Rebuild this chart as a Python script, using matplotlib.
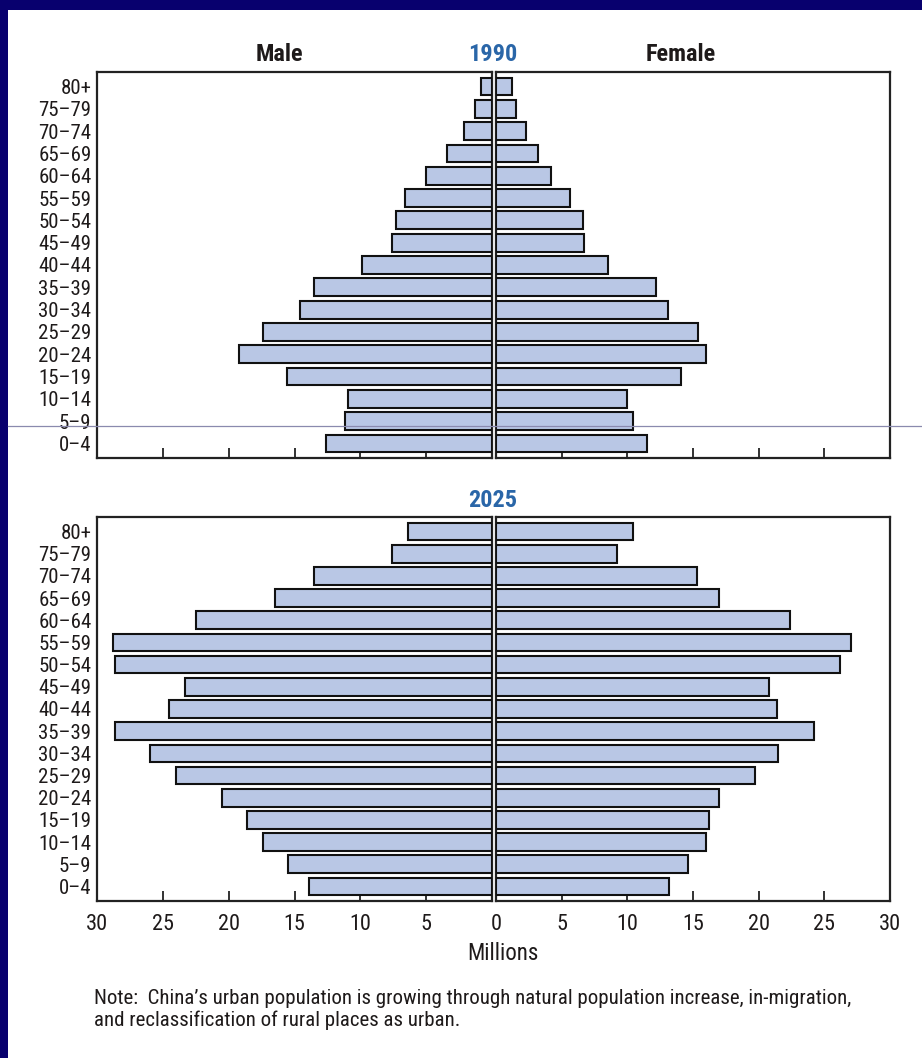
import os
import matplotlib
matplotlib.use("Agg")
import matplotlib.pyplot as plt
from matplotlib.lines import Line2D
from matplotlib.font_manager import FontProperties
from matplotlib import font_manager
import numpy as np

ages = ["0\u20134", "5\u20139", "10\u201314", "15\u201319", "20\u201324", "25\u201329", "30\u201334",
        "35\u201339", "40\u201344", "45\u201349", "50\u201354", "55\u201359", "60\u201364",
        "65\u201369", "70\u201374", "75\u201379", "80+"]

male_1990 = [12.6, 11.2, 10.9, 15.6, 19.2, 17.4, 14.6, 13.5, 9.9, 7.6, 7.3, 6.6, 5.0, 3.4, 2.1, 1.3, 0.8]
female_1990 = [11.5, 10.4, 10.0, 14.1, 16.0, 15.4, 13.1, 12.2, 8.5, 6.7, 6.6, 5.6, 4.2, 3.2, 2.3, 1.5, 1.2]
male_2025 = [13.9, 15.5, 17.4, 18.6, 20.5, 24.0, 26.0, 28.6, 24.5, 23.3, 28.6, 28.8, 22.5, 16.5, 13.5, 7.6, 6.4]
female_2025 = [13.2, 14.6, 16.0, 16.2, 17.0, 19.7, 21.5, 24.2, 21.4, 20.8, 26.2, 27.0, 22.4, 17.0, 15.3, 9.2, 10.4]

male_ticks = [5, 10, 15, 20, 25, 30]
female_ticks = [0, 5, 10, 15, 20, 25, 30]


def pick_font(bold):
    prefs = ["liberation sans narrow", "roboto condensed", "dejavu sans", "open sans",
             "noto sans", "lato", "inter", "liberation sans"]
    best = None
    for f in font_manager.fontManager.ttflist:
        fn = os.path.basename(f.fname).lower()
        name = f.name.lower()
        if "mono" in fn or "serif" in fn or "italic" in fn or "oblique" in fn or f.style != "normal":
            continue
        st = f.stretch
        if isinstance(st, str):
            cond = st in ("condensed", "semi-condensed", "extra-condensed", "ultra-condensed")
        else:
            cond = st < 500
        cond = cond or "narrow" in fn or "condensed" in fn or "narrow" in name or "condensed" in name
        w = f.weight
        if isinstance(w, str):
            isbold = w in ("bold", "heavy", "black", "demibold", "semibold")
        else:
            isbold = w >= 600
        if isbold != bold:
            continue
        rank = None
        for i, p in enumerate(prefs):
            if name.startswith(p):
                rank = i
                break
        if rank is None:
            continue
        score = (0 if cond else 100) + rank
        if "light" in fn or "thin" in fn or "medium" in fn or "extra" in fn or "black" in fn:
            score += 50
        if best is None or score < best[0]:
            best = (score, f.fname)
    return best[1] if best else None


reg_file = pick_font(False)
bold_file = pick_font(True)


def fp(size, bold=False):
    f = bold_file if bold else reg_file
    if f:
        return FontProperties(fname=f, size=size)
    return FontProperties(family="Liberation Sans", size=size, weight="bold" if bold else "normal")


W, H = 922, 1058
fig = plt.figure(figsize=(W / 100, H / 100), dpi=100)
fig.patch.set_facecolor("white")

NAVY = "#08006e"
BAR = "#b9c7e5"
TXT = "#1e1a1a"
BLUE = "#2a66a8"

fig.add_artist(plt.Rectangle((0, 1 - 10 / H), 1, 10 / H, transform=fig.transFigure,
                             facecolor=NAVY, edgecolor="none", zorder=0))
fig.add_artist(plt.Rectangle((0, 0), 8 / W, 1, transform=fig.transFigure,
                             facecolor=NAVY, edgecolor="none", zorder=0))


def fx(px):
    return px / W


def fy(py):
    return 1 - py / H


def make_panel(top_px, bot_px, male, female, show_xlabels):
    b = fy(bot_px)
    h = (bot_px - top_px) / H
    axm = fig.add_axes([fx(97), b, fx(492 - 97), h])
    axf = fig.add_axes([fx(496), b, fx(890 - 496), h])
    y = np.arange(len(ages))
    for ax, vals, tks in ((axm, male, male_ticks), (axf, female, female_ticks)):
        ax.barh(y, vals, height=0.8, color=BAR, edgecolor="#111111", linewidth=1.5, zorder=3)
        ax.set_ylim(-0.65, len(ages) - 0.35)
        ax.set_xticks(tks)
        ax.set_xticklabels([str(t) for t in tks])
        ax.set_axisbelow(True)
        ax.tick_params(axis="x", direction="in", length=7, width=1.3, color="#222222",
                       pad=9, labelcolor=TXT)
        for lbl in ax.get_xticklabels():
            lbl.set_fontproperties(fp(16))
        for s in ax.spines.values():
            s.set_linewidth(1.6)
            s.set_color("#222222")
        if not show_xlabels:
            ax.tick_params(axis="x", labelbottom=False)
    axm.set_xlim(30, 0)
    axf.set_xlim(0, 30)
    axm.set_yticks(y)
    axm.set_yticklabels(ages, color=TXT)
    for lbl in axm.get_yticklabels():
        lbl.set_fontproperties(fp(15))
    axm.tick_params(axis="y", length=0, pad=4)
    axf.set_yticks([])
    return axm, axf


make_panel(72, 458, male_1990, female_1990, False)
make_panel(517, 901, male_2025, female_2025, True)

fig.text(fx(279), fy(55), "Male", ha="center", va="center", fontproperties=fp(17.5, True), color=TXT)
fig.text(fx(493), fy(55), "1990", ha="center", va="center", fontproperties=fp(17.5, True), color=BLUE)
fig.text(fx(681), fy(55), "Female", ha="center", va="center", fontproperties=fp(17.5, True), color=TXT)
fig.text(fx(493), fy(500), "2025", ha="center", va="center", fontproperties=fp(17.5, True), color=BLUE)
fig.text(fx(503), fy(953), "Millions", ha="center", va="center", fontproperties=fp(16.5), color=TXT)
fig.text(fx(94), fy(998),
         "Note:  China\u2019s urban population is growing through natural population increase, in-migration,",
         ha="left", va="center", fontproperties=fp(15), color=TXT)
fig.text(fx(94), fy(1020), "and reclassification of rural places as urban.",
         ha="left", va="center", fontproperties=fp(15), color=TXT)

fig.add_artist(Line2D([fx(8), 1], [fy(426), fy(426)], transform=fig.transFigure,
                      color="#8a8aae", linewidth=0.9, zorder=10))

fig.savefig("out.png", dpi=100, facecolor="white")
